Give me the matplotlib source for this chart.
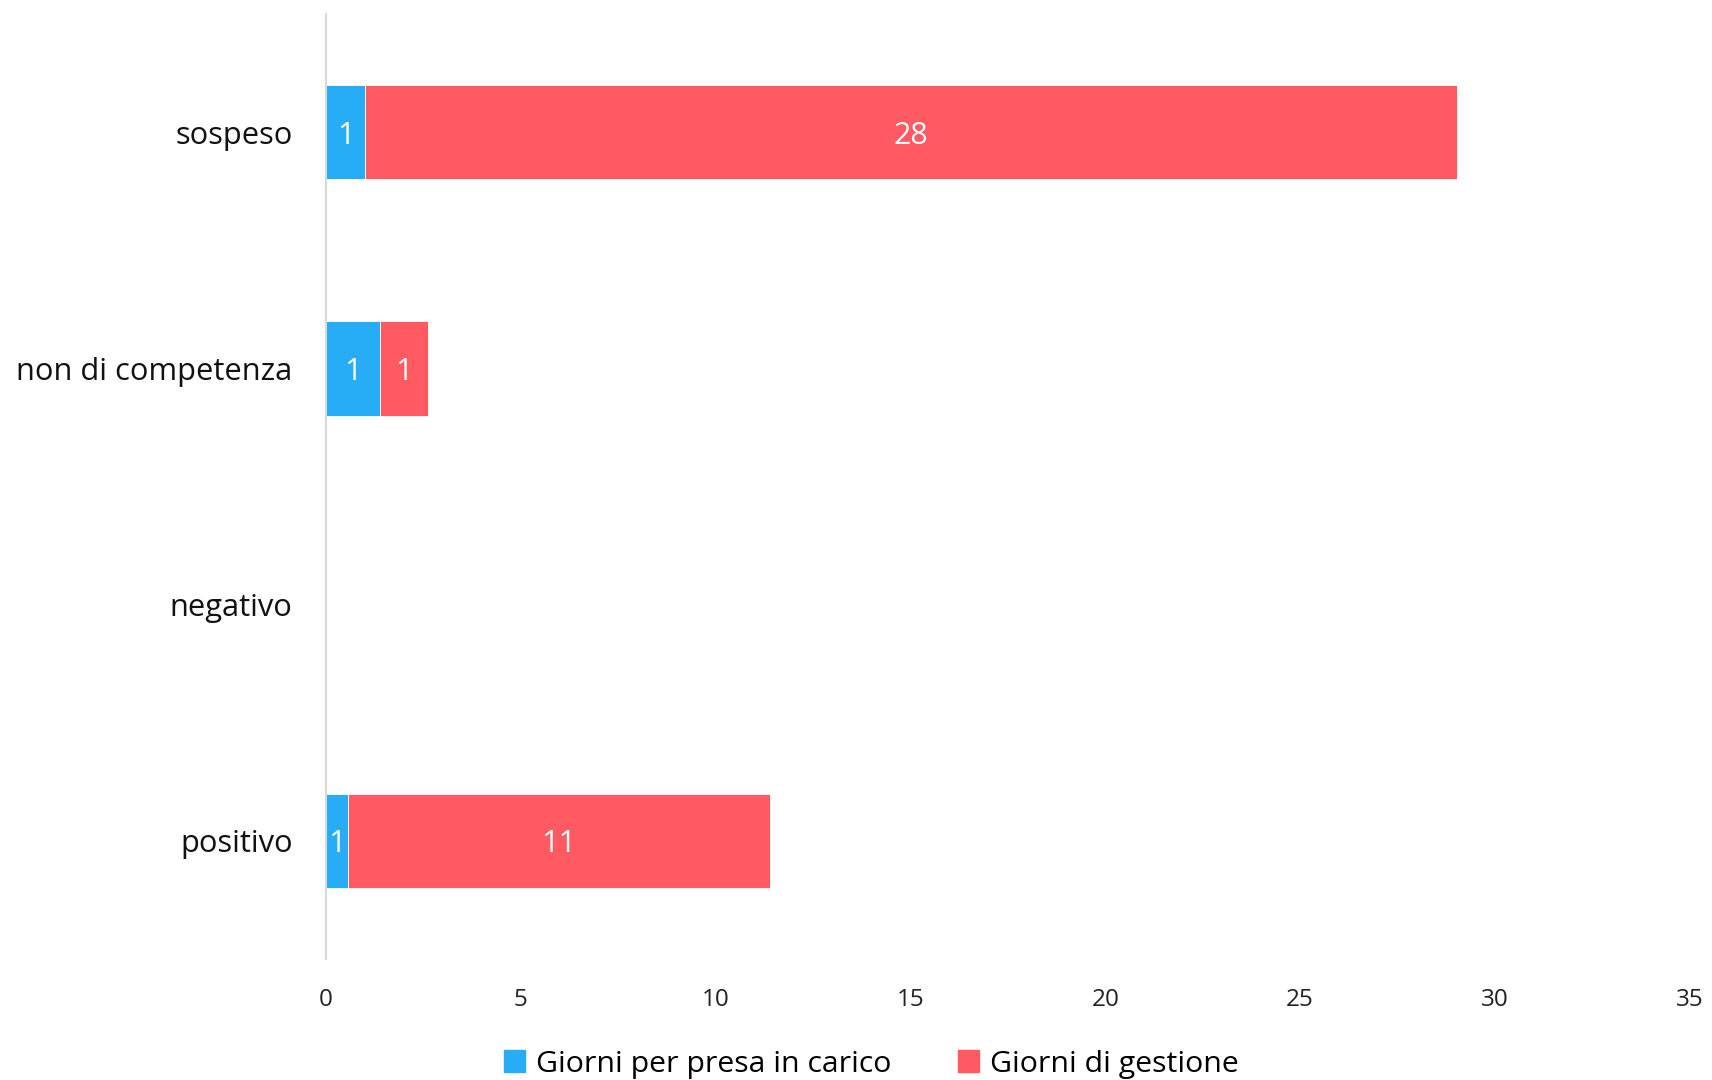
import matplotlib
matplotlib.use("Agg")
import matplotlib.pyplot as plt
from matplotlib.patches import Patch

categories = ["positivo", "negativo", "non di competenza", "sospeso"]
presa_in_carico = [0.56, 0.0, 1.39, 1.0]
gestione = [10.83, 0.0, 1.23, 28.02]
series_names = ["Giorni per presa in carico", "Giorni di gestione"]
xticks = [0, 5, 10, 15, 20, 25, 30, 35]

blue = "#27ADF5"
red = "#FF5A61"

plt.rcParams['font.family'] = ['Open Sans', 'DejaVu Sans']

fig = plt.figure(figsize=(17.12, 10.8), dpi=100)
ax = fig.add_axes([0.1904, 0.112, 0.7966, 0.875])

ypos = list(range(len(categories)))
b1 = ax.barh(ypos, presa_in_carico, height=0.4, color=blue, edgecolor="white", linewidth=0.6)
b2 = ax.barh(ypos, gestione, left=presa_in_carico, height=0.4, color=red, edgecolor="white", linewidth=0.6)

for bars, vals in ((b1, presa_in_carico), (b2, gestione)):
    for rect, v in zip(bars, vals):
        if v > 0:
            ax.text(rect.get_x() + rect.get_width() / 2, rect.get_y() + rect.get_height() / 2,
                    f"{v:.0f}", ha="center", va="center_baseline", color="white", fontsize=22)

ax.set_xlim(0, 35)
ax.set_ylim(-0.5, 3.5)
ax.set_xticks(xticks)
ax.set_xticklabels([str(t) for t in xticks], fontsize=17.5, color="#222222")
ax.set_yticks(ypos)
ax.set_yticklabels(categories, fontsize=22.2, color="#111111")
ax.tick_params(axis="both", length=0)
ax.tick_params(axis="x", pad=21)
ax.tick_params(axis="y", pad=24)
for s in ("top", "right", "bottom"):
    ax.spines[s].set_visible(False)
ax.spines["left"].set_color("#d9d9d9")
ax.spines["left"].set_linewidth(1.5)

handles = [Patch(color=blue), Patch(color=red)]
fig.legend(handles, series_names, loc="lower center", bbox_to_anchor=(0.509, -0.024), ncol=2,
           frameon=False, fontsize=21.8, handlelength=0.7, handleheight=0.7,
           handletextpad=0.35, columnspacing=2.2)

fig.savefig("out.png", dpi=100)
